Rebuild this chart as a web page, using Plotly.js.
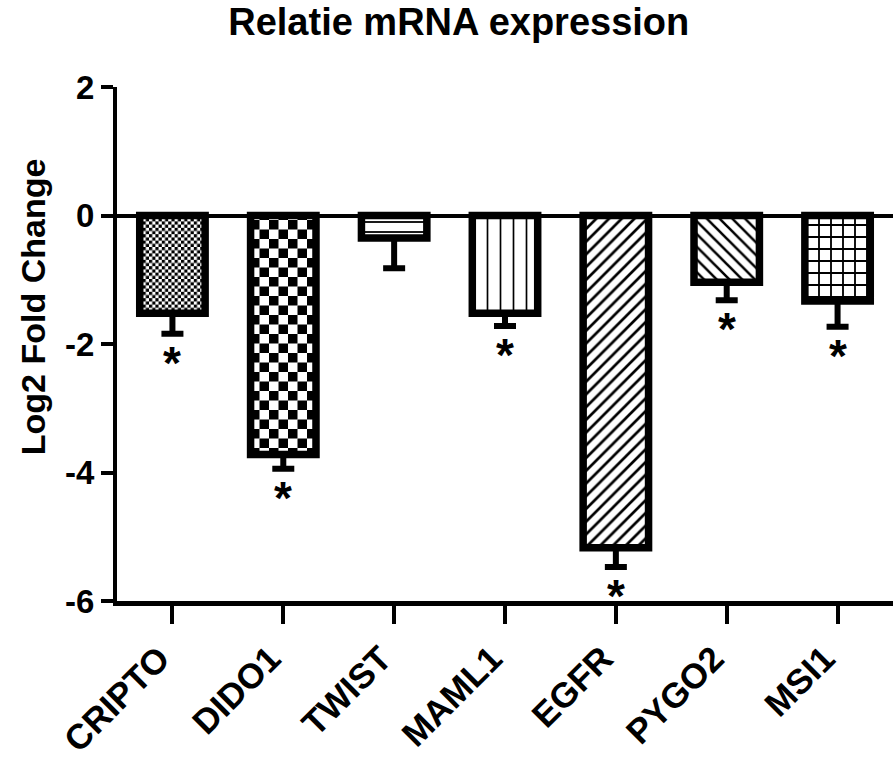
<!DOCTYPE html>
<html><head><meta charset="utf-8">
<script src="https://cdn.plot.ly/plotly-3.0.1.min.js"></script>
<style>html,body{margin:0;padding:0;background:#fff}</style>
</head><body><div id="chart" style="width:896px;height:760px"></div>
<script>
// ---- data ----
const genes = ['CRIPTO', 'DIDO1', 'TWIST', 'MAML1', 'EGFR', 'PYGO2', 'MSI1'];
const log2FoldChange = [-1.52, -3.72, -0.35, -1.52, -5.17, -1.04, -1.33];
const errorSEM = [0.32, 0.22, 0.47, 0.20, 0.30, 0.28, 0.40];
const significant = [true, true, false, true, true, true, true];
const yTickValues = [-6, -4, -2, 0, 2];

// ---- styles ----
const FONT = 'Liberation Sans, Arial, sans-serif';
const patternShapes = ['', '', '-', '|', '/', '\\', '+'];
const patternSizes = [8, 8, 10, 13, 9, 9, 12];
const patternSolidity = [0.3, 0.3, 0.18, 0.13, 0.3, 0.28, 0.28];
const checkerCells = [3.2, 9.5, 0, 0, 0, 0, 0];

const barTrace = {
  type: 'bar',
  x: genes,
  y: log2FoldChange,
  width: 0.59,
  marker: {
    color: '#ffffff',
    line: {color: '#000000', width: 7.5},
    pattern: {
      shape: patternShapes,
      size: patternSizes,
      solidity: patternSolidity,
      fgcolor: '#000000',
      bgcolor: '#ffffff',
      fillmode: 'replace'
    }
  },
  error_y: {
    type: 'data',
    symmetric: false,
    array: genes.map(() => 0),
    arrayminus: errorSEM,
    color: '#000000',
    thickness: 6,
    width: 11
  },
  hoverinfo: 'none'
};

const annotations = [];
genes.forEach((g, i) => {
  if (significant[i]) {
    annotations.push({
      x: g, y: log2FoldChange[i] - errorSEM[i],
      xref: 'x', yref: 'y',
      text: '*', showarrow: false,
      yanchor: 'top', yshift: -1,
      font: {family: FONT, size: 46, color: '#000', weight: 'bold'}
    });
  }
});
// y-axis title (placed as a rotated annotation so it can sit above the axis centre)
annotations.push({
  xref: 'paper', yref: 'paper', x: -0.108, y: 0.572,
  xanchor: 'center', yanchor: 'middle', textangle: -90,
  text: 'Log2 Fold Change', showarrow: false,
  font: {family: FONT, size: 34, color: '#000', weight: 'bold'}
});

const layout = {
  width: 896, height: 760,
  margin: {l: 117, r: 3, t: 87, b: 159},
  paper_bgcolor: '#ffffff', plot_bgcolor: '#ffffff',
  showlegend: false,
  title: {
    text: 'Relatie mRNA expression',
    font: {family: FONT, size: 38, color: '#000', weight: 'bold'},
    xref: 'container', yref: 'container', x: 0.512, y: 0.972,
    xanchor: 'center', yanchor: 'middle'
  },
  xaxis: {
    type: 'category',
    range: [-0.5, 6.5],
    showline: true, linecolor: '#000', linewidth: 5,
    ticks: 'outside', ticklen: 18, tickwidth: 4, tickcolor: '#000',
    tickangle: -45,
    ticklabelshift: -13,
    ticklabelstandoff: 0,
    tickfont: {family: FONT, size: 35, color: '#000', weight: 'bold'},
    showgrid: false, zeroline: false, fixedrange: true
  },
  yaxis: {
    range: [-6, 2],
    tickvals: yTickValues,
    ticktext: yTickValues.map(String),
    showline: true, linecolor: '#000', linewidth: 4,
    ticks: 'outside', ticklen: 12, tickwidth: 4, tickcolor: '#000',
    tickfont: {family: FONT, size: 33, color: '#000', weight: 'bold'},
    showgrid: false,
    zeroline: true, zerolinecolor: '#000', zerolinewidth: 4,
    automargin: false, fixedrange: true
  },
  annotations: annotations
};

Plotly.newPlot('chart', [barTrace], layout, {staticPlot: true, displayModeBar: false}).then(gd => {
  const NS = 'http://www.w3.org/2000/svg';
  const svg = gd.querySelector('svg.main-svg');
  let defs = svg.querySelector('defs');
  if (!defs) { defs = document.createElementNS(NS, 'defs'); svg.insertBefore(defs, svg.firstChild); }
  function makeChecker(id, cell) {
    const p = document.createElementNS(NS, 'pattern');
    p.setAttribute('id', id);
    p.setAttribute('patternUnits', 'userSpaceOnUse');
    p.setAttribute('width', 2 * cell);
    p.setAttribute('height', 2 * cell);
    const rects = [[0, 0, 2 * cell, 2 * cell, '#fff'], [0, 0, cell, cell, '#000'], [cell, cell, cell, cell, '#000']];
    rects.forEach(r => {
      const e = document.createElementNS(NS, 'rect');
      e.setAttribute('x', r[0]); e.setAttribute('y', r[1]);
      e.setAttribute('width', r[2]); e.setAttribute('height', r[3]);
      e.setAttribute('fill', r[4]);
      p.appendChild(e);
    });
    defs.appendChild(p);
  }
  const paths = gd.querySelectorAll('.barlayer .trace .point path');
  checkerCells.forEach((c, i) => {
    if (c > 0 && paths[i]) {
      makeChecker('chk' + i, c);
      paths[i].style.fill = 'url(#chk' + i + ')';
    }
  });
});
</script>
</body></html>
